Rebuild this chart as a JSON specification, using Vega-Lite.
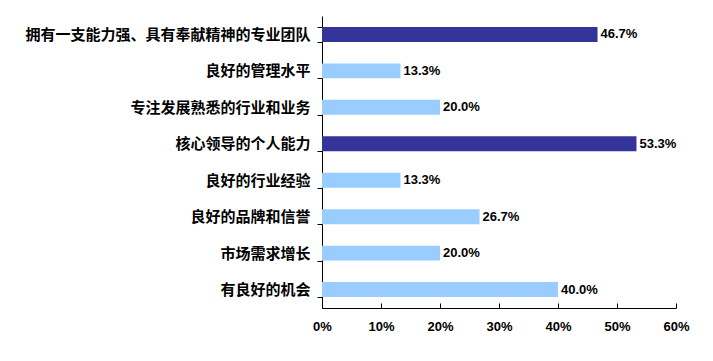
{
  "$schema": "https://vega.github.io/schema/vega-lite/v6.json",
  "width": 354,
  "height": 292,
  "autosize": {"type": "none"},
  "padding": {"left": 322, "top": 16, "right": 37, "bottom": 53},
  "background": "white",
  "config": {"view": {"stroke": null}},
  "data": {
    "values": [
      {"item": "拥有一支能力强、具有奉献精神的专业团队", "value": 0.467, "key": true},
      {"item": "良好的管理水平", "value": 0.133, "key": false},
      {"item": "专注发展熟悉的行业和业务", "value": 0.2, "key": false},
      {"item": "核心领导的个人能力", "value": 0.533, "key": true},
      {"item": "良好的行业经验", "value": 0.133, "key": false},
      {"item": "良好的品牌和信誉", "value": 0.267, "key": false},
      {"item": "市场需求增长", "value": 0.2, "key": false},
      {"item": "有良好的机会", "value": 0.4, "key": false}
    ]
  },
  "encoding": {
    "y": {
      "field": "item", "type": "nominal", "sort": null,
      "scale": {"paddingInner": 0.59, "paddingOuter": 0.3},
      "axis": {
        "title": null, "tickBand": "extent", "tickSize": 5, "tickColor": "black",
        "domainColor": "black", "labelPadding": 7, "labelFont": "Noto Sans CJK SC",
        "labelFontWeight": "bold", "labelFontSize": 15, "labelColor": "black", "labelLimit": 400
      }
    },
    "x": {
      "field": "value", "type": "quantitative",
      "scale": {"domain": [0, 0.6]},
      "axis": {
        "title": null, "format": ".0%", "values": [0, 0.1, 0.2, 0.3, 0.4, 0.5, 0.6],
        "grid": false, "tickSize": -5, "tickColor": "black", "domainColor": "black",
        "labelPadding": 17, "labelFont": "Liberation Sans", "labelFontWeight": "bold",
        "labelFontSize": 13, "labelColor": "black", "labelFlush": false
      }
    }
  },
  "layer": [
    {
      "mark": {"type": "bar"},
      "encoding": {
        "color": {
          "field": "key", "type": "nominal",
          "scale": {"domain": [true, false], "range": ["#333399", "#99CCFF"]},
          "legend": null
        }
      }
    },
    {
      "mark": {"type": "text", "align": "left", "dx": 3, "font": "Liberation Sans", "fontWeight": "bold", "fontSize": 13, "color": "black"},
      "encoding": {"text": {"field": "value", "type": "quantitative", "format": ".1%"}}
    }
  ]
}
